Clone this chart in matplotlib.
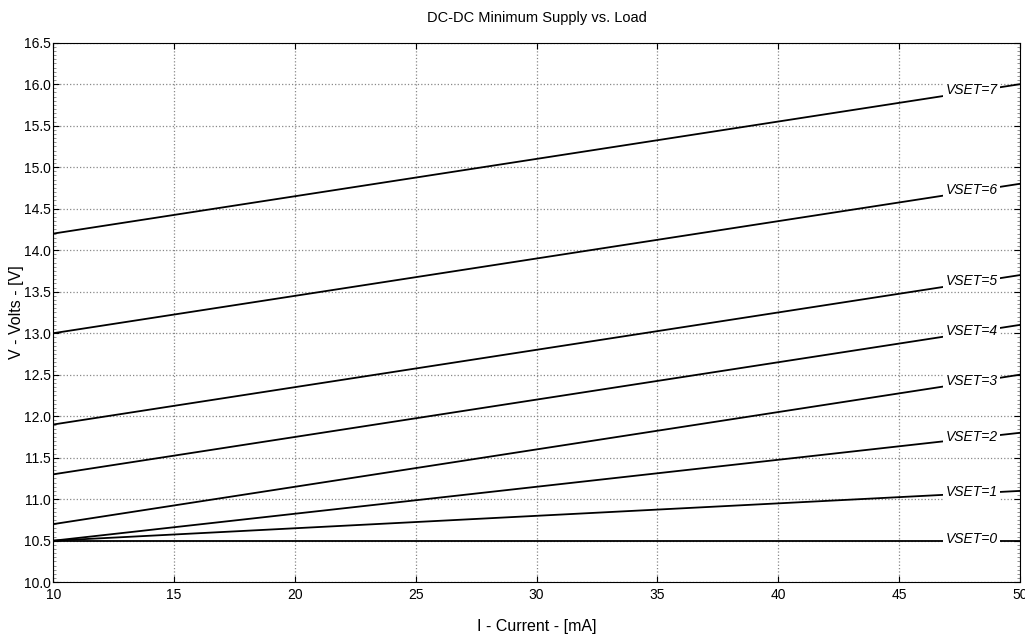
import matplotlib
matplotlib.use("Agg")
import matplotlib.pyplot as plt
import numpy as np
from matplotlib.ticker import MultipleLocator

plt.rcParams['font.family'] = ['Liberation Sans', 'DejaVu Sans']

# load current [mA] at the two ends of each line
current = [10, 50]
vset_labels = ['VSET=0', 'VSET=1', 'VSET=2', 'VSET=3', 'VSET=4', 'VSET=5', 'VSET=6', 'VSET=7']
v_start = [10.5, 10.5, 10.5, 10.7, 11.3, 11.9, 13.0, 14.2]
v_end = [10.5, 11.1, 11.8, 12.5, 13.1, 13.7, 14.8, 16.0]
label_x = 48.0

fig = plt.figure(figsize=(10.25, 6.37), dpi=100)
ax = fig.add_axes([0.052, 0.086, 0.943, 0.847])

for name, v0, v1 in zip(vset_labels, v_start, v_end):
    ax.plot(current, [v0, v1], color='black', linewidth=1.3, zorder=3)
    y_lab = np.interp(label_x, current, [v0, v1])
    ax.text(label_x, y_lab + 0.02, name, fontsize=10, style='italic', ha='center', va='center',
            zorder=4, bbox=dict(facecolor='white', edgecolor='none', pad=1.5))

ax.set_xlim(10, 50)
ax.set_ylim(10.0, 16.5)
ax.xaxis.set_major_locator(MultipleLocator(5))
ax.yaxis.set_major_locator(MultipleLocator(0.5))
ax.yaxis.set_minor_locator(MultipleLocator(0.05))
ax.yaxis.set_major_formatter(matplotlib.ticker.FormatStrFormatter('%.1f'))
ax.tick_params(which='both', direction='in', top=True, right=True, labelsize=10, pad=2)
ax.tick_params(axis='x', pad=4)
ax.tick_params(which='major', length=4, width=0.8)
ax.tick_params(which='minor', length=2, width=0.5, color='#666666')
ax.grid(True, which='major', linestyle=':', color='#888888', linewidth=0.9)

ax.set_title('DC-DC Minimum Supply vs. Load', fontsize=10.5, pad=15)
ax.set_xlabel('I - Current - [mA]', fontsize=11.5)
ax.set_ylabel('V - Volts - [V]', fontsize=11.5, labelpad=0)
ax.xaxis.set_label_coords(0.5, -0.068)

fig.savefig('out.png', dpi=100)
